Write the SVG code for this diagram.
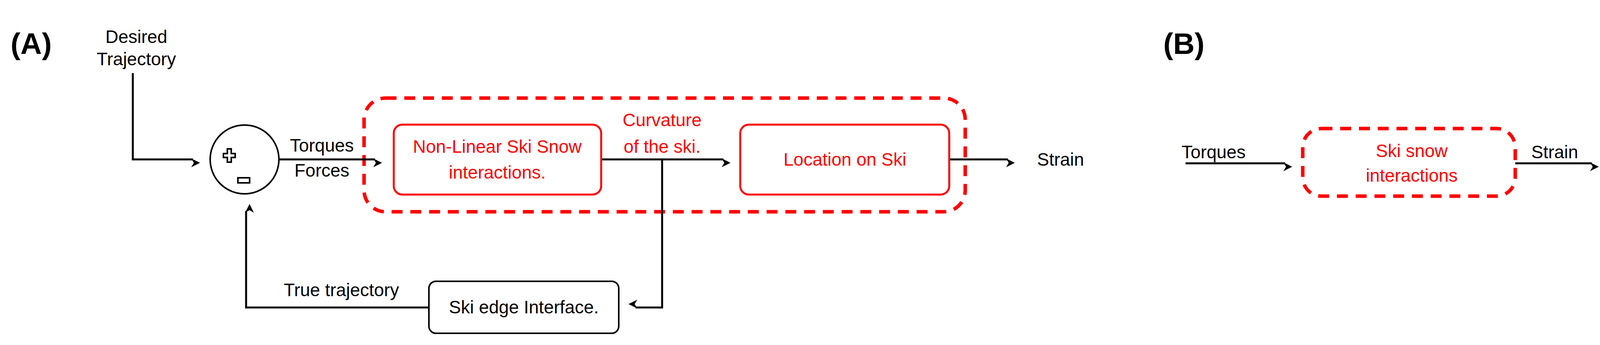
<svg xmlns="http://www.w3.org/2000/svg" width="4182" height="883" viewBox="0 0 4182 883">
<style>
.t{font-family:"Liberation Sans",Arial,sans-serif;font-size:46px;fill:#000}
.r{fill:#ff0000}
.c{text-anchor:middle}
.lbl{font-family:"Liberation Sans",Arial,sans-serif;font-weight:bold;font-size:76px}
.ln{fill:none;stroke:#000;stroke-width:5}
.box{fill:#fff;stroke:#ff0000;stroke-width:5}
.dash{fill:none;stroke:#ff0000;stroke-width:9;stroke-dasharray:28 20}
</style>
<defs>
<marker id="a" viewBox="0 0 10 10" refX="9" refY="5" markerWidth="5" markerHeight="5" orient="auto" markerUnits="userSpaceOnUse" style="overflow:visible">
<path d="M0,0 L10,5 L0,10 L3,5 Z" transform="scale(4.5)" fill="#000"/>
</marker>
</defs>
<text class="lbl" x="27" y="138">(A)</text>
<text class="lbl" x="2978" y="138">(B)</text>
<g id="dashA"><rect class="dash" x="932" y="251" width="1539" height="291" rx="55"/></g>
<g id="connectors">
<path class="ln" d="M340,187 V408 H494" marker-end="url(#a)"/>
<path class="ln" d="M713,408 H960" marker-end="url(#a)"/>
<path class="ln" d="M1539,408 H1852" marker-end="url(#a)"/>
<path class="ln" d="M2430,408 H2580" marker-end="url(#a)"/>
<path class="ln" d="M1695,408 V787 H1627" marker-end="url(#a)"/>
<path class="ln" d="M1098,787 H630 V540" marker-end="url(#a)"/>
<path class="ln" d="M3035,418 H3290" marker-end="url(#a)"/>
<path class="ln" d="M3879,418 H4075" marker-end="url(#a)"/>
</g>
<g id="desired"><text class="t c" x="349" y="110">Desired</text><text class="t c" x="349" y="167">Trajectory</text></g>
<g id="sum"><circle cx="626" cy="408" r="88" fill="#fff" stroke="#000" stroke-width="4"/>
<path d="M572,393 h10 v-12 h10 v12 h10 v10 h-10 v12 h-10 v-12 h-10 Z" fill="none" stroke="#000" stroke-width="4"/>
<rect x="609" y="455" width="30" height="13" fill="none" stroke="#000" stroke-width="4"/></g>
<g id="tf"><text class="t c" x="824" y="388">Torques</text><text class="t c" x="824" y="452">Forces</text></g>
<g id="box1"><rect class="box" x="1008" y="319" width="531" height="179" rx="22"/>
<text class="t r c" x="1273" y="391">Non-Linear Ski Snow</text><text class="t r c" x="1273" y="457">interactions.</text></g>
<g id="curv"><text class="t r c" x="1695" y="323">Curvature</text><text class="t r c" x="1695" y="391">of the ski.</text></g>
<g id="box2"><rect class="box" x="1895" y="319" width="535" height="179" rx="22"/>
<text class="t r c" x="2163" y="424">Location on Ski</text></g>
<g id="strainA"><text class="t" x="2655" y="424">Strain</text></g>
<g id="box3"><rect x="1098" y="720" width="486" height="133" rx="18" fill="#fff" stroke="#000" stroke-width="4"/>
<text class="t c" x="1341" y="802">Ski edge Interface.</text></g>
<g id="truet"><text class="t c" x="874" y="758">True trajectory</text></g>
<g id="torqB"><text class="t" x="3025" y="405">Torques</text></g>
<g id="boxB"><rect class="dash" x="3335" y="329" width="544" height="173" rx="48"/>
<text class="t r c" x="3614" y="402">Ski snow</text><text class="t r c" x="3614" y="465">interactions</text></g>
<g id="strainB"><text class="t" x="3920" y="405">Strain</text></g>
</svg>
